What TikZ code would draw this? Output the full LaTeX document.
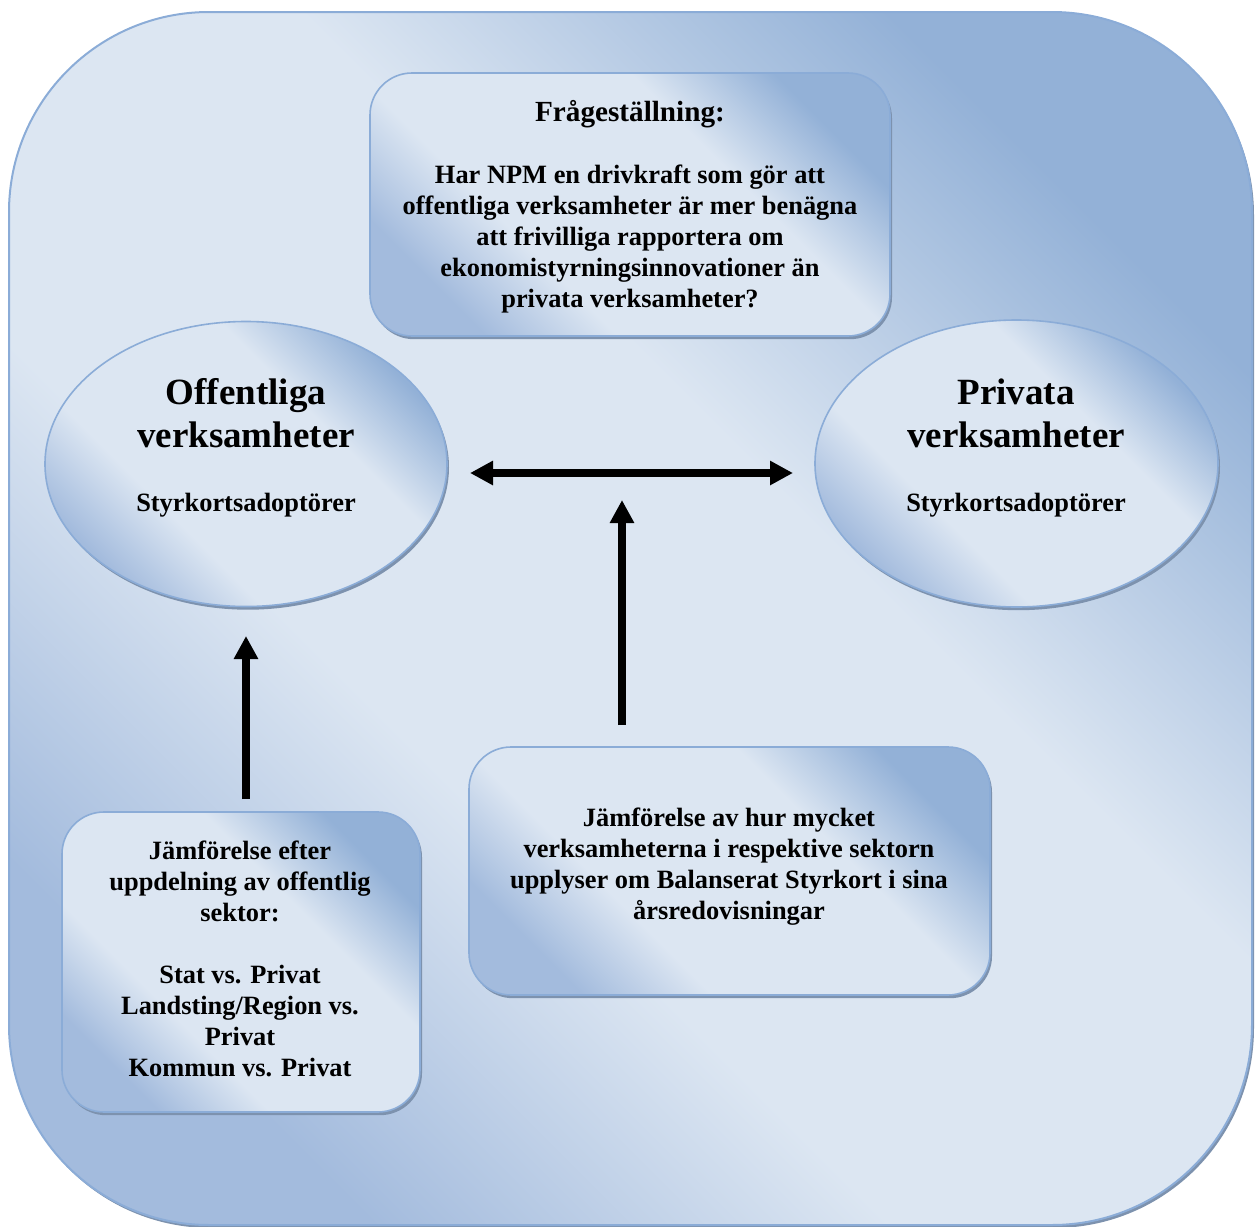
\documentclass[tikz,border=0pt]{standalone}
\usepackage{fontspec}
\setmainfont{Liberation Serif}
\usetikzlibrary{shapes.geometric,arrows.meta,shadows}
\definecolor{bdark}{HTML}{93B1D7}
\definecolor{bmid}{HTML}{A3BBDD}
\definecolor{blight}{HTML}{DCE6F2}
\definecolor{bline}{HTML}{8BACD7}
\definecolor{shcol}{HTML}{7D92AE}
\pgfdeclareverticalshading{diagshade}{100bp}{color(0bp)=(bmid); color(25bp)=(bmid); color(37bp)=(blight); color(62bp)=(blight); color(75bp)=(bdark); color(100bp)=(bdark)}
\pgfdeclareverticalshading{outshade}{100bp}{color(0bp)=(bmid); color(25bp)=(bmid); color(40bp)=(blight); color(58bp)=(blight); color(75bp)=(bdark); color(100bp)=(bdark)}
\begin{document}
\begin{tikzpicture}[x=0.5pt,y=-0.5pt,
  grad/.style={shading=diagshade, shading angle=-45},
  outerbox/.style={shading=outshade, shading angle=-45, draw=bline, line width=1pt, rounded corners=100pt},
  boxshape/.style={grad, draw=bline, line width=0.8pt, rounded corners=21pt,
    drop shadow={shadow xshift=1pt, shadow yshift=-1.6pt, fill=shcol, opacity=1},
    inner sep=0pt},
  ellshape/.style={ellipse, grad, draw=bline, line width=0.8pt, inner sep=0pt,
    drop shadow={shadow xshift=1pt, shadow yshift=-1.6pt, fill=shcol, opacity=1}},
  bodytxt/.style={font=\bfseries\fontsize{13.2}{15.5}\selectfont, align=center, inner sep=0pt},
  titletxt/.style={font=\bfseries\fontsize{18.5}{21.5}\selectfont, align=center, inner sep=0pt},
  arr/.style={line width=3.8pt, black, -{Triangle[length=11.5pt,width=11.5pt]}},
  darr/.style={line width=3.8pt, black, {Triangle[length=11.5pt,width=11.5pt]}-{Triangle[length=11.5pt,width=11.5pt]}}
]
\useasboundingbox (0,0) rectangle (1255,1227);
% outer frame with shadow
\fill[shcol, rounded corners=100pt] (11,15) rectangle (1254,1228);
\path[outerbox] (9,12) rectangle (1252,1225);

% top question box
\node[boxshape, minimum width=260pt, minimum height=131.5pt] (qbox) at (630,204.5) {};
\node[bodytxt] (qtxt) at (630,207) {{\fontsize{14.6}{15.5}\selectfont Frågeställning:}\\[15.5pt]Har NPM en drivkraft som gör att\\offentliga verksamheter är mer benägna\\att frivilliga rapportera om\\ekonomistyrningsinnovationer än\\privata verksamheter?};

% ellipses
\node[ellshape, minimum width=201pt, minimum height=142.5pt] (offl) at (246,464) {};
\node[titletxt] (offlt) at (246,413.5) {Offentliga\\verksamheter};
\node[bodytxt] (offls) at (246,505.5) {Styrkortsadoptörer};

\node[ellshape, minimum width=201.5pt, minimum height=143.5pt] (priv) at (1016.5,463.5) {};
\node[titletxt] (privt) at (1016,413.5) {Privata\\verksamheter};
\node[bodytxt] (privs) at (1016,505.5) {Styrkortsadoptörer};

% bottom boxes
\node[boxshape, minimum width=179pt, minimum height=150pt] (blbox) at (241,962) {};
\node[bodytxt] (bltxt) at (240,958.5) {Jämförelse efter\\uppdelning av offentlig\\sektor:\\[15.5pt]Stat vs. Privat\\Landsting/Region vs.\\Privat\\Kommun vs. Privat};

\node[boxshape, minimum width=260.5pt, minimum height=124pt] (brbox) at (729.5,871) {};
\node[bodytxt] (brtxt) at (729,866.5) {Jämförelse av hur mycket\\verksamheterna i respektive sektorn\\upplyser om Balanserat Styrkort i sina\\årsredovisningar};

% arrow end points
\coordinate (hl) at (470,473);
\coordinate (hr) at (793,473);
\coordinate (vtop) at (622,500);
\coordinate (vbot) at (622,725);
\coordinate (ltop) at (246,636);
\coordinate (lbot) at (246,799);

\draw[darr] (hl) -- (hr);
\draw[arr] (vbot) -- (vtop);
\draw[arr] (lbot) -- (ltop);
\end{tikzpicture}
\end{document}
